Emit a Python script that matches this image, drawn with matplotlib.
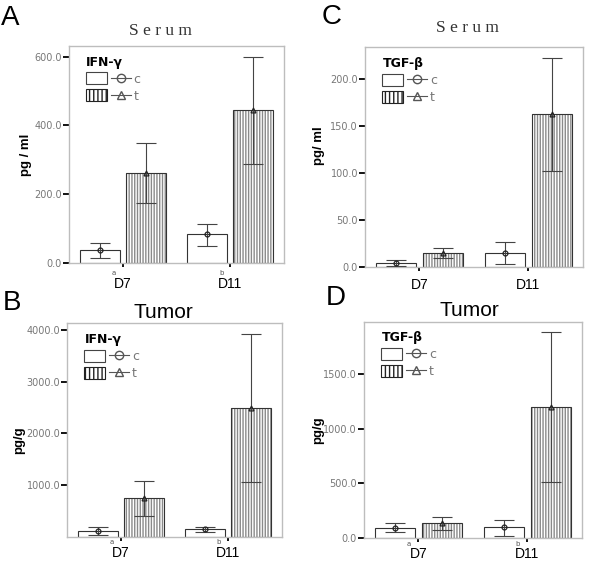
import matplotlib
matplotlib.use("Agg")
import matplotlib.pyplot as plt
from matplotlib.patches import Patch
from matplotlib.lines import Line2D
from matplotlib.legend_handler import HandlerTuple
import numpy as np

days = ["D7", "D11"]
day_marks = ["a", "b"]
groups = ["c", "t"]

# Panel A: Serum IFN-gamma (pg/ml)
serum_ifn_c = [37, 83]
serum_ifn_c_lo = [15, 49]
serum_ifn_c_hi = [59, 113]
serum_ifn_t = [261, 445]
serum_ifn_t_lo = [174, 288]
serum_ifn_t_hi = [348, 600]

# Panel C: Serum TGF-beta (pg/ml)
serum_tgf_c = [3.5, 14.7]
serum_tgf_c_lo = [0.5, 2.5]
serum_tgf_c_hi = [7.3, 26.5]
serum_tgf_t = [14.7, 162.5]
serum_tgf_t_lo = [9.3, 102]
serum_tgf_t_hi = [20, 222.5]

# Panel B: Tumor IFN-gamma (pg/g)
tumor_ifn_c = [110, 140]
tumor_ifn_c_lo = [33, 85]
tumor_ifn_c_hi = [193, 193]
tumor_ifn_t = [743, 2483]
tumor_ifn_t_lo = [406, 1052]
tumor_ifn_t_hi = [1071, 3921]

# Panel D: Tumor TGF-beta (pg/g)
tumor_tgf_c = [91, 100]
tumor_tgf_c_lo = [55, 24]
tumor_tgf_c_hi = [137, 167]
tumor_tgf_t = [135, 1199]
tumor_tgf_t_lo = [76, 516]
tumor_tgf_t_hi = [197, 1882]

W, H = 600, 564
fig = plt.figure(figsize=(6.0, 5.64), dpi=100)

def fx(px):
    return px / W

def fy(py):
    return 1 - py / H

panels = [
    dict(rect=[0.115, 0.5337, 0.3583, 0.3848], ymax=631, ticks=[0, 200, 400, 600],
         c=(serum_ifn_c, serum_ifn_c_lo, serum_ifn_c_hi), t=(serum_ifn_t, serum_ifn_t_lo, serum_ifn_t_hi),
         legtitle="IFN-γ", ylabel="pg / ml", ylab_xy=(-0.172, 0.5), letter="A", title="Serum",
         title_xy=(160, 31), marks=True, xpad=7, mark_y=-0.044),
    dict(rect=[0.6083, 0.5271, 0.3628, 0.389], ymax=234, ticks=[0, 50, 100, 150, 200],
         c=(serum_tgf_c, serum_tgf_c_lo, serum_tgf_c_hi), t=(serum_tgf_t, serum_tgf_t_lo, serum_tgf_t_hi),
         legtitle="TGF-β", ylabel="pg/ ml", ylab_xy=(-0.184, 0.55), letter="C", title="Serum",
         title_xy=(467, 28), marks=False, xpad=5, mark_y=-0.04),
    dict(rect=[0.1122, 0.0484, 0.3573, 0.3784], ymax=4127, ticks=[1000, 2000, 3000, 4000],
         c=(tumor_ifn_c, tumor_ifn_c_lo, tumor_ifn_c_hi), t=(tumor_ifn_t, tumor_ifn_t_lo, tumor_ifn_t_hi),
         legtitle="IFN-γ", ylabel="pg/g", ylab_xy=(-0.197, 0.453), letter="B", title="Tumor",
         title_xy=(163, 312), marks=True, xpad=3.5, mark_y=-0.026),
    dict(rect=[0.6067, 0.0456, 0.3628, 0.384], ymax=1973, ticks=[0, 500, 1000, 1500],
         c=(tumor_tgf_c, tumor_tgf_c_lo, tumor_tgf_c_hi), t=(tumor_tgf_t, tumor_tgf_t_lo, tumor_tgf_t_hi),
         legtitle="TGF-β", ylabel="pg/g", ylab_xy=(-0.184, 0.5), letter="D", title="Tumor",
         title_xy=(469, 310), marks=True, xpad=3.5, mark_y=-0.026),
]

width = 0.37
off = 0.215
x = np.arange(len(days))
spine_col = "#bdbdbd"
err_col = "#444444"
plt.rcParams["hatch.linewidth"] = 1.0

for p in panels:
    ax = fig.add_axes(p["rect"])
    for key, sign, hatch, mk in (("c", -1, None, "o"), ("t", 1, "||||||", "^")):
        mean, lo, hi = p[key]
        xs = x + sign * off
        if hatch:
            ax.bar(xs, mean, width=width, color="white", edgecolor="#8a8a8a",
                   linewidth=0, hatch=hatch, zorder=2)
            ax.bar(xs, mean, width=width, color="none", edgecolor="#333333",
                   linewidth=0.8, zorder=2.1)
        else:
            ax.bar(xs, mean, width=width, color="white", edgecolor="#333333",
                   linewidth=0.8, zorder=2)
        mean = np.array(mean); lo = np.array(lo); hi = np.array(hi)
        ax.errorbar(xs, mean, yerr=[mean - lo, hi - mean], fmt="none",
                    ecolor=err_col, elinewidth=0.8, capsize=7.5, capthick=0.8, zorder=3)
        ax.plot(xs, mean, linestyle="none", marker=mk, markersize=3.5,
                markerfacecolor="none", markeredgecolor="#222222", markeredgewidth=0.9, zorder=4)
    ax.set_xlim(-0.5, 1.5)
    ax.set_ylim(0, p["ymax"])
    ax.set_yticks(p["ticks"])
    ax.set_yticklabels([f"{v:.1f}" for v in p["ticks"]])
    ax.set_xticks(x)
    ax.set_xticklabels(days, fontsize=10, color="black", family="Liberation Sans")
    ax.tick_params(axis="y", length=4, width=1.3, color="black", labelsize=7,
                   labelcolor="#777777", pad=1)
    ax.tick_params(axis="x", length=3, width=1.3, color="black", pad=p["xpad"])
    for s in ax.spines.values():
        s.set_color(spine_col)
        s.set_linewidth(1.0)
    ax.set_ylabel(p["ylabel"], fontsize=9.5, fontweight="bold", family="Liberation Sans")
    ax.yaxis.set_label_coords(*p["ylab_xy"])
    if p["marks"]:
        for xi, m in zip(x, day_marks):
            ax.text(xi - 0.085, p["mark_y"], m, transform=ax.get_xaxis_transform(),
                    fontsize=5, color="#555555", ha="center", va="center")
    handles = [
        (Patch(facecolor="white", edgecolor="#444444", linewidth=0.8),
         Line2D([], [], color="#555555", lw=0.8, marker="o", markersize=6,
                markerfacecolor="none", markeredgecolor="#555555")),
        (Patch(facecolor="white", edgecolor="#222222", linewidth=0.8, hatch="||||"),
         Line2D([], [], color="#555555", lw=0.8, marker="^", markersize=6,
                markerfacecolor="none", markeredgecolor="#555555")),
    ]
    leg = ax.legend(handles, groups, handler_map={tuple: HandlerTuple(ndivide=None, pad=0.3)},
                    loc="upper left", bbox_to_anchor=(0.08, 0.955), frameon=False,
                    handlelength=3.6, handleheight=1.1, handletextpad=0.2, labelspacing=0.3,
                    fontsize=9, title=p["legtitle"],
                    title_fontproperties={"weight": "bold", "size": 9},
                    borderaxespad=0.0, borderpad=0.0)
    leg._legend_box.align = "left"
    for t in leg.get_texts():
        t.set_color("#777777")
    tx, ty = p["title_xy"]
    if p["title"] == "Serum":
        fig.text(fx(tx), fy(ty), " ".join(p["title"]), ha="center", va="center",
                 fontsize=12.5, family="Liberation Serif", color="#333333")
    else:
        fig.text(fx(tx), fy(ty), p["title"], ha="center", va="center",
                 fontsize=15, family="Liberation Sans", color="black")

fig.text(fx(1), fy(18), "A", fontsize=20, family="Liberation Sans", va="center", ha="left")
fig.text(fx(322), fy(17), "C", fontsize=20, family="Liberation Sans", va="center", ha="left")
fig.text(fx(3), fy(303), "B", fontsize=20, family="Liberation Sans", va="center", ha="left")
fig.text(fx(326), fy(298), "D", fontsize=20, family="Liberation Sans", va="center", ha="left")

fig.savefig("out.png", dpi=100)
